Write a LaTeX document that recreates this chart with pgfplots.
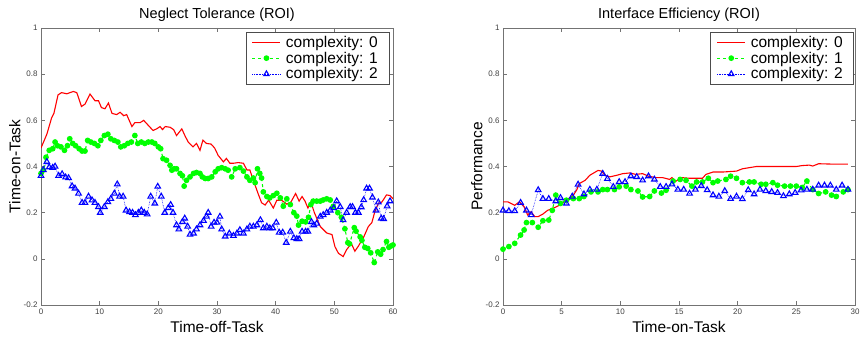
\documentclass[border=0pt]{standalone}
\usepackage{pgfplots}
\pgfplotsset{compat=1.18}
\usepackage{fontspec}
\setmainfont{Liberation Sans}
\definecolor{mred}{rgb}{1,0,0}
\definecolor{mgreen}{rgb}{0,1,0}
\definecolor{mblue}{rgb}{0,0,1}
\definecolor{axgray}{rgb}{0.45,0.45,0.45}
\pgfplotsset{
  mstyle/.style={
    scale only axis, width=352pt, height=277pt,
    ymin=-0.2, ymax=1, ytick={-0.2,0,0.2,0.4,0.6,0.8,1},
    axis line style={axgray, line width=0.6pt},
    tick style={axgray, line width=0.5pt},
    tick align=inside, xtick pos=both, ytick pos=both,
    major tick length=4pt,
    tick label style={font=\fontsize{8}{9}\selectfont, color=black!75},
    /pgf/number format/assume math mode=true,
    yticklabel style={/pgf/number format/fixed, /pgf/number format/precision=1},
    label style={font=\fontsize{15.5}{18}\selectfont},
    title style={font=\fontsize{14.5}{17}\selectfont, at={(axis description cs:0.5,1.027)}, anchor=center},
    xlabel style={at={(axis description cs:0.5,-0.08)}, anchor=center},
    ylabel style={at={(axis description cs:-0.074,0.5)}, anchor=center},
    legend style={font=\fontsize{15.5}{18}\selectfont, draw=black!70, line width=0.5pt,
      inner xsep=6pt, inner ysep=3pt, row sep=1.2pt, cells={anchor=west},
      nodes={inner xsep=5pt, inner ysep=1pt}},
    legend cell align=left,
    legend image code/.code={
      \draw[mark repeat=2,mark phase=2,#1] plot coordinates {(0pt,0pt) (14pt,0pt) (28pt,0pt)};},
  },
  rline/.style={mred, line width=1.1pt, no markers},
  gline/.style={mgreen, line width=1.1pt, dashed, mark=*, mark size=2.3pt, mark options={solid, fill=mgreen, draw=mgreen}},
  bline/.style={mblue, line width=0.6pt, densely dotted, mark=triangle, mark size=3.2pt, mark options={solid, draw=mblue, fill=white, line width=1.1pt}},
}
\begin{document}
\begin{tikzpicture}
\path[use as bounding box] (0,0) rectangle (860pt,343pt);
\begin{axis}[mstyle, at={(41pt,38pt)}, anchor=south west,
  xmin=0, xmax=60, xtick={0,10,20,30,40,50,60},
  title={Neglect Tolerance (ROI)}, xlabel={Time-off-Task}, ylabel={Time-on-Task},
  legend style={at={(rel axis cs:0.989,0.987)}, anchor=north east}]
\addplot[rline] coordinates {(0,0.48)(1,0.54)(1.8,0.61)(2.2,0.63)(2.9,0.71)(3.5,0.72)(4.4,0.715)(5.5,0.725)(6.1,0.72)(6.9,0.66)(7.5,0.67)(8.35,0.714)(9.2,0.685)(9.8,0.685)(10.3,0.655)(10.9,0.65)(11.5,0.675)(12.1,0.63)(12.9,0.625)(13.5,0.635)(14.1,0.62)(14.6,0.625)(15.5,0.573)(16.0,0.59)(16.9,0.59)(17.5,0.6)(18.3,0.578)(19.1,0.556)(19.7,0.563)(20.3,0.573)(20.7,0.56)(21.2,0.573)(22.0,0.57)(22.6,0.56)(23.1,0.534)(24.0,0.563)(24.6,0.53)(25.1,0.506)(25.9,0.485)(26.5,0.5)(27.1,0.47)(27.6,0.514)(28.2,0.5)(29.0,0.497)(29.6,0.48)(30.2,0.448)(31.1,0.42)(31.6,0.435)(32.2,0.414)(32.8,0.414)(33.6,0.417)(34.5,0.414)(35.1,0.385)(35.6,0.385)(36.2,0.34)(37.0,0.283)(37.6,0.243)(38.2,0.233)(38.8,0.254)(39.6,0.22)(40.2,0.254)(41.0,0.254)(41.9,0.237)(42.6,0.246)(43.4,0.283)(44.0,0.25)(44.5,0.27)(45.0,0.25)(45.5,0.22)(46.0,0.246)(46.6,0.2)(47.6,0.14)(48.7,0.112)(49.6,0.105)(50.1,0.053)(50.7,0.024)(51.5,0.01)(52.1,0.04)(52.9,0.066)(53.5,0.033)(54.1,0.055)(55.0,0.094)(55.8,0.14)(56.4,0.157)(56.9,0.204)(57.5,0.24)(58.1,0.246)(58.9,0.277)(59.5,0.274)(60,0.26)};
\addlegendentry{complexity: 0}
\addplot[gline] coordinates {(0,0.37)(0.4,0.385)(0.85,0.44)(1.4,0.47)(2.0,0.477)(2.4,0.506)(2.8,0.49)(3.4,0.485)(4.0,0.47)(4.5,0.49)(4.9,0.52)(5.4,0.5)(5.9,0.49)(6.5,0.477)(7.0,0.467)(7.5,0.467)(7.95,0.513)(8.5,0.506)(9.1,0.5)(9.7,0.49)(10.2,0.513)(10.8,0.534)(11.4,0.54)(11.9,0.52)(12.5,0.513)(13.1,0.506)(13.6,0.485)(14.2,0.49)(14.8,0.5)(15.4,0.506)(16.0,0.534)(16.5,0.5)(17.1,0.506)(17.7,0.5)(18.3,0.506)(18.9,0.506)(19.4,0.5)(20.0,0.485)(20.4,0.477)(20.8,0.434)(21.4,0.427)(22.0,0.405)(22.3,0.384)(22.7,0.39)(23.1,0.39)(23.7,0.37)(24.1,0.36)(24.4,0.315)(24.8,0.34)(25.4,0.355)(26.0,0.37)(26.5,0.374)(27.1,0.37)(27.5,0.355)(28.0,0.348)(28.5,0.348)(29.1,0.355)(29.7,0.377)(30.2,0.39)(30.8,0.395)(31.4,0.39)(31.9,0.384)(32.5,0.355)(33.1,0.39)(33.9,0.395)(34.5,0.38)(35.1,0.355)(35.6,0.34)(36.2,0.35)(36.5,0.33)(36.9,0.39)(37.3,0.37)(37.6,0.35)(37.9,0.29)(38.5,0.27)(39.0,0.264)(39.6,0.274)(40.2,0.284)(40.8,0.264)(41.3,0.228)(41.9,0.26)(42.5,0.235)(43.1,0.2)(43.6,0.185)(43.9,0.146)(44.5,0.163)(45.1,0.16)(45.6,0.18)(46.0,0.235)(46.4,0.25)(47.0,0.25)(47.6,0.25)(48.1,0.255)(48.7,0.26)(49.3,0.255)(49.8,0.227)(50.6,0.2)(51.2,0.18)(51.8,0.13)(52.3,0.07)(52.6,0.065)(53.4,0.135)(53.7,0.12)(54.4,0.095)(54.7,0.08)(55.2,0.05)(55.7,0.045)(56.2,0.026)(56.8,-0.016)(57.4,0.03)(57.9,0.02)(58.3,0.04)(58.9,0.075)(59.3,0.05)(59.7,0.056)(60,0.06)};
\addlegendentry{complexity: 1}
\addplot[bline] coordinates {(0,0.36)(0.4,0.385)(1.0,0.42)(1.4,0.397)(2.0,0.395)(2.4,0.4)(3.0,0.36)(3.6,0.367)(4.2,0.353)(4.7,0.35)(5.3,0.315)(5.8,0.305)(6.4,0.283)(7.0,0.243)(7.5,0.243)(8.1,0.27)(8.7,0.254)(9.2,0.243)(9.8,0.225)(10.1,0.2)(10.8,0.225)(11.4,0.246)(11.9,0.26)(12.5,0.283)(13.0,0.323)(13.4,0.27)(14.0,0.27)(14.5,0.21)(15.1,0.203)(15.6,0.2)(16.1,0.19)(16.6,0.2)(17.1,0.21)(17.6,0.2)(18.1,0.193)(18.7,0.27)(19.4,0.24)(19.9,0.313)(20.5,0.27)(21.1,0.2)(21.7,0.22)(22.1,0.234)(22.5,0.2)(23.1,0.146)(23.5,0.128)(24.1,0.16)(24.5,0.175)(25.0,0.14)(25.4,0.105)(26.0,0.11)(26.5,0.128)(27.1,0.146)(27.7,0.165)(28.2,0.183)(28.5,0.2)(29.0,0.14)(29.5,0.157)(30.0,0.157)(30.5,0.183)(30.8,0.128)(31.4,0.097)(32.1,0.11)(32.8,0.1)(33.4,0.11)(33.9,0.125)(34.5,0.11)(35.1,0.128)(35.6,0.14)(36.2,0.14)(36.8,0.146)(37.4,0.168)(37.9,0.133)(38.5,0.14)(39.0,0.133)(39.5,0.133)(40.1,0.157)(40.6,0.114)(41.2,0.114)(41.8,0.07)(42.5,0.118)(43.1,0.09)(43.6,0.086)(44.0,0.086)(44.5,0.118)(45.1,0.118)(45.5,0.118)(46.1,0.16)(46.5,0.146)(47.0,0.153)(47.6,0.183)(48.1,0.19)(48.7,0.2)(49.3,0.21)(49.9,0.22)(50.4,0.25)(51.0,0.225)(51.5,0.168)(52.1,0.2)(52.7,0.225)(53.1,0.225)(53.6,0.2)(54.1,0.2)(54.6,0.224)(55.0,0.255)(55.5,0.305)(56.0,0.305)(56.5,0.266)(57.1,0.21)(57.5,0.245)(58.0,0.175)(58.4,0.173)(59.0,0.228)(59.5,0.25)};
\addlegendentry{complexity: 2}
\end{axis}
\begin{axis}[mstyle, at={(503pt,38pt)}, anchor=south west,
  xmin=0, xmax=30, xtick={0,5,10,15,20,25,30},
  title={Interface Efficiency (ROI)}, xlabel={Time-on-Task}, ylabel={Performance},
  legend style={at={(rel axis cs:0.997,0.987)}, anchor=north east}]
\addplot[rline] coordinates {(0,0.247)(0.4,0.247)(1.0,0.232)(1.4,0.247)(1.8,0.226)(2.1,0.19)(2.4,0.204)(2.7,0.183)(3.0,0.183)(3.4,0.194)(3.8,0.21)(4.4,0.222)(4.8,0.232)(5.4,0.254)(6.0,0.276)(6.3,0.3)(6.5,0.326)(7.0,0.34)(7.4,0.362)(8.1,0.383)(8.4,0.38)(8.7,0.362)(9.1,0.355)(9.7,0.362)(10.2,0.369)(10.8,0.372)(11.3,0.366)(11.9,0.369)(12.4,0.358)(13.0,0.352)(13.6,0.352)(14.2,0.344)(14.4,0.352)(14.7,0.335)(15.2,0.352)(15.9,0.349)(16.7,0.349)(17.0,0.349)(17.3,0.366)(17.9,0.376)(18.7,0.376)(19.9,0.38)(20.4,0.39)(21.6,0.4)(22.7,0.4)(23.8,0.4)(25.0,0.4)(25.5,0.404)(26.1,0.406)(26.4,0.402)(26.9,0.412)(28.3,0.41)(29.4,0.41)};
\addlegendentry{complexity: 0}
\addplot[gline] coordinates {(0,0.042)(0.5,0.053)(1.0,0.067)(1.5,0.103)(1.8,0.125)(2.0,0.157)(2.5,0.157)(3.0,0.137)(3.4,0.165)(3.9,0.168)(4.2,0.21)(4.5,0.276)(4.9,0.24)(5.4,0.254)(6.0,0.261)(6.5,0.261)(6.9,0.27)(7.5,0.29)(8.1,0.29)(8.5,0.3)(8.9,0.3)(9.5,0.3)(9.9,0.312)(10.5,0.315)(10.9,0.3)(11.5,0.294)(11.9,0.268)(12.5,0.27)(12.9,0.294)(13.5,0.285)(13.9,0.297)(14.5,0.337)(15.1,0.344)(15.6,0.34)(16.1,0.315)(16.5,0.333)(17.0,0.333)(17.5,0.349)(17.9,0.33)(18.3,0.337)(19.0,0.344)(19.4,0.358)(19.9,0.349)(20.4,0.33)(21.0,0.333)(21.4,0.333)(22.0,0.323)(22.4,0.323)(23.0,0.33)(23.4,0.319)(24.0,0.315)(24.5,0.315)(25.0,0.315)(25.5,0.309)(25.9,0.337)(26.4,0.3)(26.9,0.283)(27.5,0.29)(28.0,0.276)(28.4,0.27)(29.0,0.29)(29.4,0.3)};
\addlegendentry{complexity: 1}
\addplot[bline] coordinates {(0,0.21)(0.5,0.207)(1.0,0.207)(1.5,0.243)(2.0,0.21)(2.4,0.19)(3.0,0.298)(3.4,0.26)(3.9,0.26)(4.5,0.25)(4.9,0.264)(5.4,0.24)(5.9,0.27)(6.4,0.322)(6.9,0.28)(7.4,0.3)(8.0,0.3)(8.5,0.369)(8.9,0.347)(9.4,0.312)(9.9,0.333)(10.4,0.333)(10.9,0.358)(11.4,0.355)(11.9,0.34)(12.4,0.358)(12.9,0.344)(13.4,0.312)(13.9,0.312)(14.4,0.323)(14.9,0.3)(15.4,0.3)(15.9,0.283)(16.4,0.3)(16.9,0.316)(17.4,0.298)(17.9,0.276)(18.4,0.27)(18.9,0.294)(19.4,0.26)(19.9,0.27)(20.4,0.259)(20.9,0.298)(21.4,0.28)(21.9,0.3)(22.4,0.294)(22.9,0.29)(23.4,0.286)(23.9,0.272)(24.4,0.28)(24.9,0.286)(25.4,0.297)(25.9,0.3)(26.4,0.3)(26.9,0.318)(27.4,0.318)(27.9,0.318)(28.4,0.3)(28.9,0.318)(29.4,0.3)};
\addlegendentry{complexity: 2}
\end{axis}
\end{tikzpicture}
\end{document}
